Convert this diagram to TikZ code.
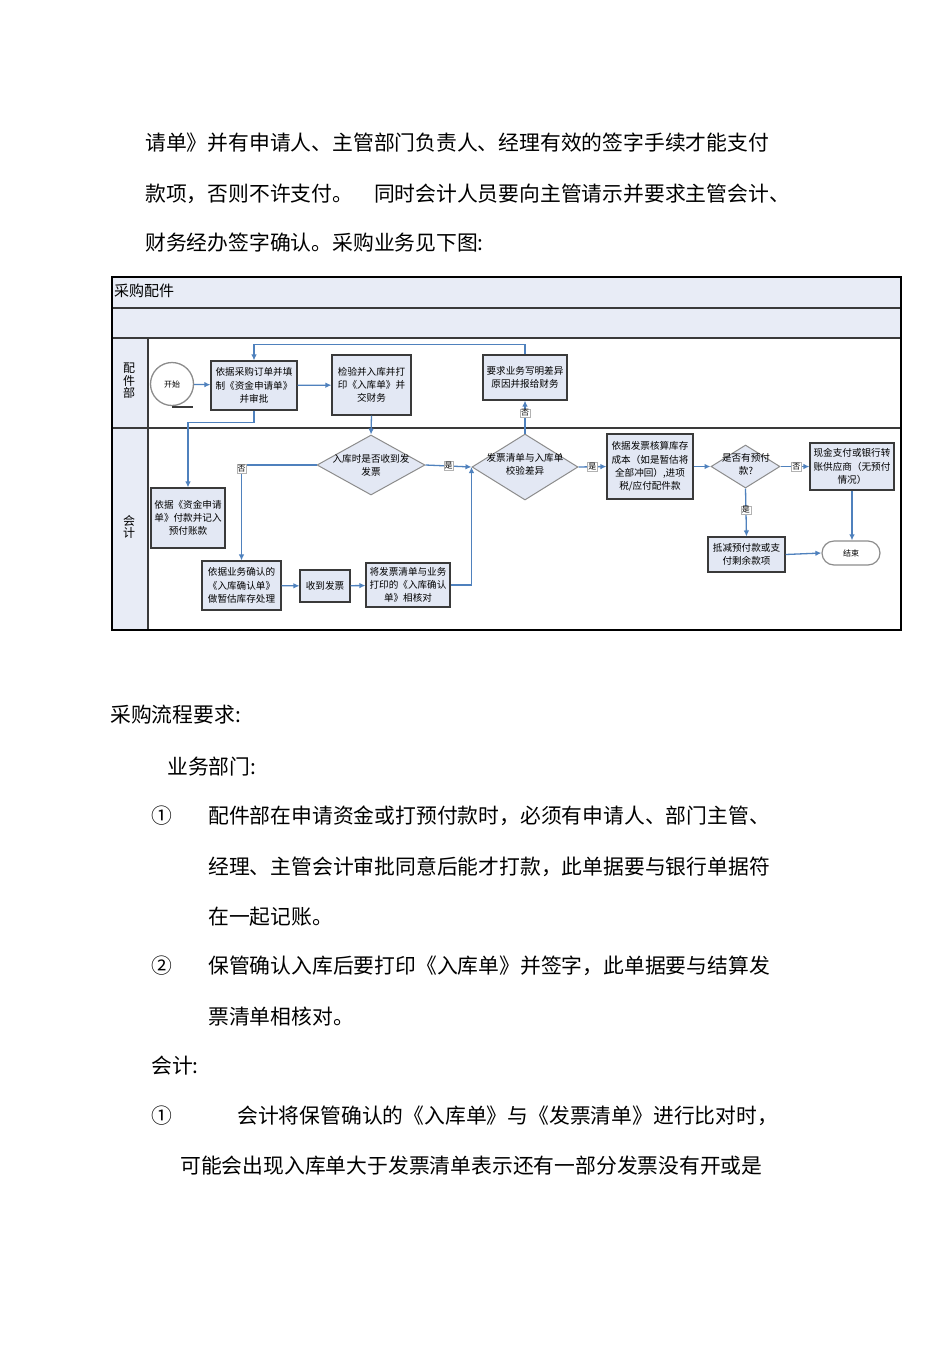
\documentclass[tikz,border=0pt]{standalone}
\usepackage{fontspec}
\newfontfamily\cjk{Noto Sans CJK SC}
\usetikzlibrary{shapes.geometric,arrows.meta,calc}
\definecolor{lanefill}{HTML}{E8ECF6}
\definecolor{boxfill}{HTML}{E3E8F4}
\definecolor{flow}{HTML}{4F81BD}
\definecolor{dgray}{HTML}{8C8C8C}
\definecolor{frame}{HTML}{3A3A3A}
\begin{document}
\begin{tikzpicture}[x=1pt,y=-1pt,
  body/.style={font=\cjk\fontsize{20.8}{24}\selectfont, anchor=west, inner sep=0pt},
  proc/.style={draw=frame, line width=1.1pt, fill=boxfill, font=\cjk\fontsize{9.6}{13.2}\selectfont, align=center, inner sep=1pt},
  dec/.style={diamond, draw=dgray, line width=1pt, fill=boxfill, inner sep=0pt},
  dtext/.style={font=\cjk\fontsize{9.6}{13.2}\selectfont, align=center, inner sep=0pt},
  term/.style={draw=dgray, line width=1.2pt, fill=white, font=\cjk\fontsize{8}{10}\selectfont},
  flowline/.style={draw=flow, line width=1.3pt, -{Latex[length=6pt,width=5.5pt]}},
  lbl/.style={fill=white, draw=gray!60, line width=0.4pt, font=\cjk\fontsize{8}{9}\selectfont, inner sep=0.8pt, text=black},
  lanelbl/.style={font=\cjk\fontsize{12}{12.5}\selectfont, align=center, inner sep=0pt},
  lanebd/.style={draw=frame, line width=1.1pt}
]
\useasboundingbox[fill=white] (0,0) rectangle (950,1345);

% ---------- body text above ----------
\node[body] (t1) at (145,143) {请单》并有申请人、主管部门负责人、经理有效的签字手续才能支付};
\node[body] (t2) at (145,194) {款项，否则不许支付。　同时会计人员要向主管请示并要求主管会计、};
\node[body] (t3) at (145,243) {财务经办签字确认。采购业务见下图:};

% ---------- swimlane frame ----------
\fill[lanefill] (112,277) rectangle (901,338);
\fill[lanefill] (112,338) rectangle (148,630);
\draw[lanebd] (112,308) -- (901,308);
\draw[lanebd] (112,338) -- (901,338);
\draw[lanebd] (112,428) -- (901,428);
\draw[lanebd] (148,338) -- (148,630);
\draw[draw=black, line width=1.5pt] (112,277) rectangle (901,630);
\node[font=\cjk\fontsize{15}{16}\selectfont, anchor=west, inner sep=0pt] (title) at (114,291) {采购配件};
\node[lanelbl] (lane1) at (129,381) {配\\件\\部};
\node[lanelbl] (lane2) at (129,527) {会\\计};

% ---------- nodes ----------
\node[circle, draw=dgray, line width=1.3pt, fill=white, minimum size=43pt, inner sep=0pt, font=\cjk\fontsize{8}{10}\selectfont] (start) at (172,384) {开始};
\draw[frame, line width=1.1pt] (172,407) -- (193,407);

\node[proc, minimum width=86pt, minimum height=49pt] (A) at (254,385.5) {依据采购订单并填\\制《资金申请单》\\并审批};
\node[proc, minimum width=79pt, minimum height=60pt] (B) at (371.5,385) {检验并入库并打\\印《入库单》并\\交财务};
\node[proc, minimum width=84pt, minimum height=45pt] (C) at (525,377.5) {要求业务写明差异\\原因并报给财务};

\node[dec, minimum width=108pt, minimum height=60pt] (D1) at (371,465) {};
\node[dtext] (D1t) at (371,465) {入库时是否收到发\\发票};
\node[dec, minimum width=106pt, minimum height=66pt] (D2) at (525,467) {};
\node[dtext] (D2t) at (525,464) {发票清单与入库单\\校验差异};
\node[proc, minimum width=86pt, minimum height=65pt] (E) at (650,466.5) {依据发票核算库存\\成本（如是暂估将\\全部冲回）,进项\\税/应付配件款};
\node[dec, minimum width=69pt, minimum height=43pt] (D3) at (745.5,466.5) {};
\node[dtext] (D3t) at (746,464) {是否有预付\\款?};
\node[proc, minimum width=84pt, minimum height=47pt] (F) at (852,466.5) {现金支付或银行转\\账供应商（无预付\\情况）};
\node[proc, minimum width=77pt, minimum height=35pt] (G) at (746.5,554.5) {抵减预付款或支\\付剩余款项};
\node[term, rounded corners=12pt, minimum width=58pt, minimum height=24pt] (end) at (851,553) {结束};

\node[proc, minimum width=74pt, minimum height=60pt] (H) at (188,518) {依据《资金申请\\单》付款并记入\\预付账款};
\node[proc, minimum width=79pt, minimum height=49pt] (I) at (241.5,585.5) {依据业务确认的\\《入库确认单》\\做暂估库存处理};
\node[proc, minimum width=50pt, minimum height=32pt] (J) at (325,586) {收到发票};
\node[proc, minimum width=84pt, minimum height=44pt] (K) at (408,585) {将发票清单与业务\\打印的《入库确认\\单》相核对};

% ---------- connectors ----------
\draw[flowline] (start) -- (A);
\draw[flowline] (A) -- (B);
\draw[flowline] (A.south) -- ++(0,12) -| (H.north);
\draw[flowline] (B.south) -- (D1.north);
\draw[flowline] (D1.west) -| node[lbl, pos=0.52] {否} (I.north);
\draw[flowline] (D1.east) -- node[lbl, pos=0.5] {是} (D2.west);
\draw[flowline] (I) -- (J);
\draw[flowline] (J) -- (K);
\draw[flowline] (K.east) -| (D2.west);
\draw[flowline] (D2.north) -- node[lbl, pos=0.62] {否} (C.south);
\draw[flowline] (C.north) -- ++(0,-10) -| (A.north);
\draw[flowline] (D2.east) -- node[lbl, pos=0.5] {是} (E.west);
\draw[flowline] (E.east) -- (D3.west);
\draw[flowline] (D3.east) -- node[lbl, pos=0.55] {否} (F.west);
\draw[flowline] (D3.south) -- node[lbl, pos=0.45] {是} (G.north);
\draw[flowline] (F.south) -- (end.north -| F.south);
\draw[flowline] (G.east) -- (end.west);

% ---------- body text below ----------
\node[body] (s1) at (110,715) {采购流程要求:};
\node[body] (s2) at (167,767) {业务部门:};
\node[body] (n1) at (151,816) {①};
\node[body] (p1) at (208,816) {配件部在申请资金或打预付款时，必须有申请人、部门主管、};
\node[body] (p2) at (208,867) {经理、主管会计审批同意后能才打款，此单据要与银行单据符};
\node[body] (p3) at (208,917) {在一起记账。};
\node[body] (n2) at (151,966) {②};
\node[body] (p4) at (208,966) {保管确认入库后要打印《入库单》并签字，此单据要与结算发};
\node[body] (p5) at (208,1017) {票清单相核对。};
\node[body] (s3) at (151,1066) {会计:};
\node[body] (n3) at (151,1116) {①};
\node[body] (p6) at (237,1116) {会计将保管确认的《入库单》与《发票清单》进行比对时，};
\node[body] (p7) at (180,1166) {可能会出现入库单大于发票清单表示还有一部分发票没有开或是};
\end{tikzpicture}
\end{document}
